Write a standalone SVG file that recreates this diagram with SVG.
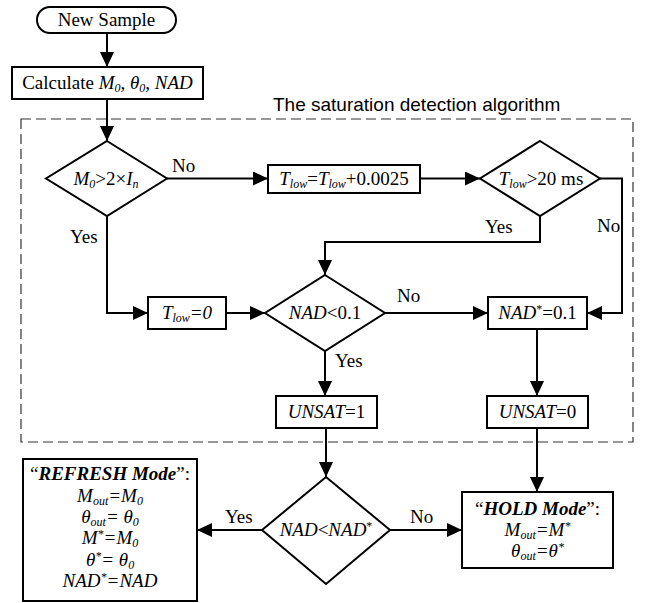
<svg xmlns="http://www.w3.org/2000/svg" width="647" height="603" viewBox="0 0 647 603">
<defs>
<marker id="ah" markerUnits="userSpaceOnUse" markerWidth="15" markerHeight="14" viewBox="0 0 15 14" refX="15" refY="7" orient="auto">
<path d="M0,0 L15,7 L0,14 z" fill="#000"/>
</marker>
<style>
.n{fill:#fff;stroke:#000;stroke-width:2}
.c{fill:none;stroke:#000;stroke-width:2;marker-end:url(#ah)}
.t{font-family:"Liberation Serif","Times New Roman",serif;font-size:19px;text-anchor:middle;fill:#000}
.l{font-family:"Liberation Serif","Times New Roman",serif;font-size:19px;fill:#000}
.i{font-style:italic}
.bi{font-style:italic;font-weight:bold}
.s{font-size:12px}
.dash{fill:none;stroke:#333;stroke-width:1.2;stroke-dasharray:10,5}
.title{font-family:"Liberation Sans",Arial,sans-serif;font-size:19px;fill:#000}
</style>
</defs>
<rect class="dash" x="21" y="119" width="612" height="323"/>
<text class="title" x="273" y="111">The saturation detection algorithm</text>

<g id="connectors">
<path class="c" d="M107,33 L107,67"/>
<path class="c" d="M107,99 L107,141"/>
<path class="c" d="M167,178.5 L268,178.5"/>
<path class="c" d="M420,178.5 L480,178.5"/>
<path class="c" d="M540,216 L540,242 L325,242 L325,275"/>
<path class="c" d="M600,178.5 L622,178.5 L622,313 L587,313"/>
<path class="c" d="M107,216 L107,313 L148,313"/>
<path class="c" d="M226,313 L265,313"/>
<path class="c" d="M385,313 L488,313"/>
<path class="c" d="M325,351 L325,396"/>
<path class="c" d="M537,329 L537,396"/>
<path class="c" d="M326,428 L326,477"/>
<path class="c" d="M537,428 L537,492"/>
<path class="c" d="M262,530 L197,530"/>
<path class="c" d="M390,530 L462,530"/>
<text class="l" x="172" y="172">No</text>
<text class="l" x="70" y="243">Yes</text>
<text class="l" x="485" y="233">Yes</text>
<text class="l" x="597" y="232">No</text>
<text class="l" x="397" y="302">No</text>
<text class="l" x="335" y="367">Yes</text>
<text class="l" x="225" y="523">Yes</text>
<text class="l" x="410" y="523">No</text>
</g>

<g id="start">
<rect class="n" x="37" y="7" width="139" height="26" rx="13"/>
<text class="t" x="106.5" y="26">New Sample</text>
</g>

<g id="calc">
<rect class="n" x="12" y="67" width="191" height="32"/>
<text class="t" x="107.5" y="89">Calculate <tspan class="i">M</tspan><tspan class="i s" dy="3">0</tspan><tspan dy="-3">, </tspan><tspan class="i">θ</tspan><tspan class="i s" dy="3">0</tspan><tspan dy="-3">, </tspan><tspan class="i">NAD</tspan></text>
</g>

<g id="d1">
<path class="n" d="M107,141 L167,178.5 L107,216 L46,178.5 z"/>
<text class="t" x="106" y="185"><tspan class="i">M</tspan><tspan class="i s" dy="3">0</tspan><tspan dy="-3">&gt;2×</tspan><tspan class="i">I</tspan><tspan class="i s" dy="3">n</tspan></text>
</g>

<g id="inc">
<rect class="n" x="268" y="165" width="152" height="28"/>
<text class="t" x="344" y="185"><tspan class="i">T</tspan><tspan class="i s" dy="3">low</tspan><tspan dy="-3">=</tspan><tspan class="i">T</tspan><tspan class="i s" dy="3">low</tspan><tspan dy="-3">+0.0025</tspan></text>
</g>

<g id="d2">
<path class="n" d="M540,141 L600,178.5 L540,216 L480,178.5 z"/>
<text class="t" x="541" y="185"><tspan class="i">T</tspan><tspan class="i s" dy="3">low</tspan><tspan dy="-3">&gt;20 ms</tspan></text>
</g>

<g id="reset">
<rect class="n" x="148" y="297" width="78" height="32"/>
<text class="t i" x="187" y="319">T<tspan class="s" dy="3">low</tspan><tspan dy="-3">=0</tspan></text>
</g>

<g id="d3">
<path class="n" d="M325,275 L385,313 L325,351 L265,313 z"/>
<text class="t" x="325" y="319"><tspan class="i">NAD</tspan>&lt;0.1</text>
</g>

<g id="nadset">
<rect class="n" x="488" y="297" width="99" height="32"/>
<text class="t" x="537.5" y="319"><tspan class="i">NAD</tspan><tspan class="s" dy="-6">*</tspan><tspan dy="6">=0.1</tspan></text>
</g>

<g id="unsat1">
<rect class="n" x="276" y="396" width="101" height="32"/>
<text class="t" x="326.5" y="418"><tspan class="i">UNSAT</tspan>=1</text>
</g>

<g id="unsat0">
<rect class="n" x="487" y="396" width="101" height="32"/>
<text class="t" x="537.5" y="418"><tspan class="i">UNSAT</tspan>=0</text>
</g>

<g id="d4">
<path class="n" d="M326,477 L390,530 L326,584 L262,530 z"/>
<text class="t" x="326" y="536"><tspan class="i">NAD</tspan>&lt;<tspan class="i">NAD</tspan><tspan class="s" dy="-6">*</tspan></text>
</g>

<g id="refresh">
<rect class="n" x="23" y="459" width="174" height="142"/>
<text class="t" x="110" y="480">“<tspan class="bi">REFRESH Mode</tspan>”:</text>
<text class="t i" x="110" y="502">M<tspan class="s" dy="3">out</tspan><tspan dy="-3">=M</tspan><tspan class="s" dy="3">0</tspan></text>
<text class="t i" x="110" y="523">θ<tspan class="s" dy="3">out</tspan><tspan dy="-3">= θ</tspan><tspan class="s" dy="3">0</tspan></text>
<text class="t i" x="110" y="544">M<tspan class="s" dy="-6">*</tspan><tspan dy="6">=M</tspan><tspan class="s" dy="3">0</tspan></text>
<text class="t i" x="110" y="566">θ<tspan class="s" dy="-6">*</tspan><tspan dy="6">= θ</tspan><tspan class="s" dy="3">0</tspan></text>
<text class="t i" x="110" y="587">NAD<tspan class="s" dy="-6">*</tspan><tspan dy="6">=NAD</tspan></text>
</g>

<g id="hold">
<rect class="n" x="462" y="492" width="151" height="76"/>
<text class="t" x="537.5" y="515">“<tspan class="bi">HOLD Mode</tspan>”:</text>
<text class="t i" x="537.5" y="536">M<tspan class="s" dy="3">out</tspan><tspan dy="-3">=M</tspan><tspan class="s" dy="-6">*</tspan></text>
<text class="t i" x="537.5" y="557">θ<tspan class="s" dy="3">out</tspan><tspan dy="-3">=θ</tspan><tspan class="s" dy="-6">*</tspan></text>
</g>
</svg>
